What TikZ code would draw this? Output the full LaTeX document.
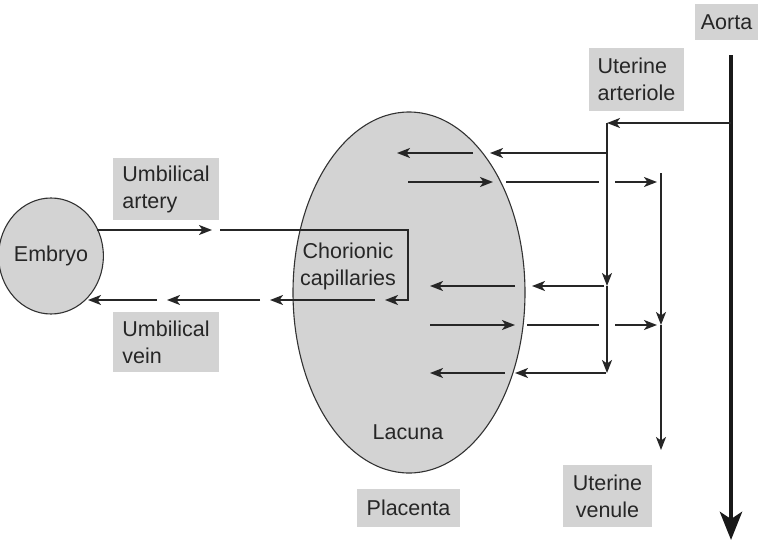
\documentclass[tikz,border=0pt]{standalone}
\usepackage{fontspec}
\setmainfont{Liberation Sans}
\usetikzlibrary{arrows.meta,shapes.geometric}
\definecolor{bgray}{RGB}{211,211,211}
\definecolor{edge}{RGB}{50,50,50}
\begin{document}
\begin{tikzpicture}[x=1pt,y=-1pt,
  txt/.style={font=\fontsize{21.5}{27}\selectfont, text=black!85, inner sep=0pt},
  lbl/.style={txt, fill=bgray, align=left},
  blob/.style={ellipse, draw=edge, line width=1.1pt, fill=bgray, inner sep=0pt},
  flow/.style={line width=1.9pt, draw=black!85, -{Stealth[length=13pt,width=10pt,inset=3.5pt]}},
  plain/.style={line width=1.9pt, draw=black!85},
  ]
\useasboundingbox (0,0) rectangle (759,543);
% shapes
\node[blob, minimum width=232pt, minimum height=361pt] (lacuna) at (409,292.5) {};
\node[blob, txt, minimum width=88pt, minimum height=116pt] (embryo) at (51,256) {Embryo};
\node[txt] (lacunatxt) at (408,432) {Lacuna};
\node[txt, align=center] (chorion) at (348,266) {Chorionic\\capillaries};
% labels
\node[lbl, minimum width=63pt, minimum height=36pt] (aorta) at (726.5,22) {Aorta};
\node[lbl, minimum width=95pt, minimum height=63pt] (uart) at (636.5,79.5) {Uterine\\arteriole};
\node[lbl, minimum width=106pt, minimum height=62pt] (umbart) at (166,189) {Umbilical\\artery};
\node[lbl, minimum width=106pt, minimum height=60pt] (umbvein) at (166,342) {Umbilical\\vein};
\node[lbl, minimum width=89pt, minimum height=62pt, align=center] (uven) at (607.5,496) {Uterine\\venule};
\node[lbl, minimum width=103pt, minimum height=38pt] (placenta) at (408.5,508) {Placenta};
% aorta
\coordinate (a1) at (731,55);
\coordinate (a2) at (731,540);
\coordinate (a3) at (731,123);
\draw[line width=4.8pt, draw=black!90, -{Stealth[length=28pt,width=22pt,inset=7pt]}] (a1) -- (a2);
% arteriole trunk
\coordinate (t0) at (607,123);
\coordinate (t1) at (607,286);
\coordinate (t2) at (607,373);
\draw[flow] (a3) -- (t0);
\draw[plain] (t0) -- (607,153);
\draw[flow] (607,150) -- (t1);
\draw[flow] (t1) -- (t2);
% venule trunk
\coordinate (v0) at (661,173);
\coordinate (v1) at (661,325);
\coordinate (v2) at (661,450);
\draw[flow] (v0) -- (v1);
\draw[flow] (v1) -- (v2);
% row 1 (y=153)
\coordinate (r1a) at (607,153);
\coordinate (r1b) at (490,153);
\coordinate (r1c) at (473,153);
\coordinate (r1d) at (397,153);
\draw[flow] (r1a) -- (r1b);
\draw[flow] (r1c) -- (r1d);
% row 2 (y=182)
\coordinate (r2a) at (408,182);
\coordinate (r2b) at (493,182);
\coordinate (r2c) at (506,182);
\coordinate (r2d) at (599,182);
\coordinate (r2e) at (615,182);
\coordinate (r2f) at (657,182);
\draw[flow] (r2a) -- (r2b);
\draw[plain] (r2c) -- (r2d);
\draw[flow] (r2e) -- (r2f);
% row 3 (y=286)
\coordinate (r3a) at (604,286);
\coordinate (r3b) at (532,286);
\coordinate (r3c) at (515,286);
\coordinate (r3d) at (430,286);
\draw[flow] (r3a) -- (r3b);
\draw[flow] (r3c) -- (r3d);
% row 4 (y=325)
\coordinate (r4a) at (430,325);
\coordinate (r4b) at (515,325);
\coordinate (r4c) at (527,325);
\coordinate (r4d) at (599,325);
\coordinate (r4e) at (615,325);
\coordinate (r4f) at (657,325);
\draw[flow] (r4a) -- (r4b);
\draw[plain] (r4c) -- (r4d);
\draw[flow] (r4e) -- (r4f);
% row 5 (y=373)
\coordinate (r5a) at (606,373);
\coordinate (r5b) at (515,373);
\coordinate (r5c) at (505,373);
\coordinate (r5d) at (430,373);
\draw[flow] (r5a) -- (r5b);
\draw[flow] (r5c) -- (r5d);
% umbilical artery
\coordinate (u1) at (97,230);
\coordinate (u2) at (212,230);
\coordinate (u3) at (220,230);
\coordinate (u4) at (408,230);
\coordinate (u5) at (408,300);
\coordinate (u6) at (385,300);
\draw[flow] (u1) -- (u2);
\draw[flow] (u3) -- (u4) -- (u5) -- (u6);
% umbilical vein
\coordinate (w1) at (375,300);
\coordinate (w2) at (270,300);
\coordinate (w3) at (260,300);
\coordinate (w4) at (167,300);
\coordinate (w5) at (157,300);
\coordinate (w6) at (88,300);
\draw[flow] (w1) -- (w2);
\draw[flow] (w3) -- (w4);
\draw[flow] (w5) -- (w6);
\end{tikzpicture}
\end{document}
